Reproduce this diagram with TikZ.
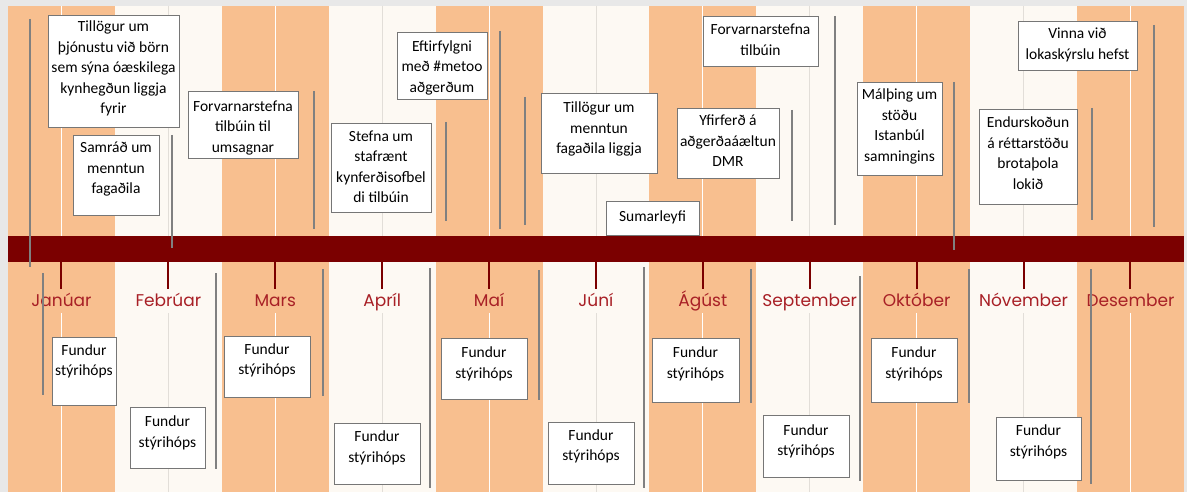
\documentclass[tikz,border=0pt]{standalone}
\usepackage{fontspec}
\setmainfont{Carlito}
\newfontfamily\monthfont{Poppins}
\definecolor{bandO}{RGB}{248,191,143}
\definecolor{bandC}{RGB}{253,249,243}
\definecolor{barR}{RGB}{123,0,0}
\definecolor{monR}{RGB}{168,32,38}
\definecolor{edgeG}{RGB}{232,232,232}
\definecolor{lineG}{RGB}{128,128,128}
\definecolor{boxG}{RGB}{118,118,118}
\definecolor{midC}{RGB}{226,222,216}
\tikzset{
  tbox/.style={draw=boxG, line width=0.9pt, fill=white, inner sep=0pt, outer sep=0pt, anchor=north west},
  vline/.style={draw=lineG, line width=1.3pt},
  monthtick/.style={draw=barR, line width=2pt},
  month/.style={font={\monthfont\fontsize{17}{20}\selectfont}, text=monR, anchor=base, inner sep=0pt},
  midO/.style={draw=white, line width=0.9pt},
  midCl/.style={draw=midC, line width=0.9pt},
}
\newcommand\Lc[1]{\makebox[0pt]{#1}}
\newcommand\tbx[7]{\node[tbox] (#1) at (#2,#3) {\parbox[t][#5pt][t]{#4pt}{\fontsize{15.5}{20.5}\selectfont\centering\rule{0pt}{#6pt}#7}};}
\begin{document}
\begin{tikzpicture}[x=1pt,y=-1pt]
\useasboundingbox (0,0) rectangle (1187,492);
\fill[edgeG] (0,0) rectangle (1187,492);
% columns
\foreach \i in {0,2,...,10} {
  \pgfmathsetmacro\xa{8+106.9*\i}
  \pgfmathsetmacro\xb{8+106.9*(\i+1)}
  \pgfmathsetmacro\xm{8+106.9*(\i+0.5)}
  \fill[bandO] (\xa,6) rectangle (\xb,492);
  \draw[midO] (\xm,6) -- (\xm,236);
  \draw[midO] (\xm,313) -- (\xm,492);
}
\foreach \i in {1,3,...,9} {
  \pgfmathsetmacro\xa{8+106.9*\i}
  \pgfmathsetmacro\xb{8+106.9*(\i+1)}
  \pgfmathsetmacro\xm{8+106.9*(\i+0.5)}
  \fill[bandC] (\xa,6) rectangle (\xb,492);
  \draw[midCl] (\xm,6) -- (\xm,236);
  \draw[midCl] (\xm,313) -- (\xm,492);
}
% bar
\node[fill=barR, inner sep=0pt, outer sep=0pt, minimum width=1176pt, minimum height=26pt, anchor=north west] (bar) at (8,236) {};
% months
\foreach \n/\name [count=\k from 0] in {m1/Janúar,m2/Febrúar,m3/Mars,m4/Apríl,m5/Maí,m6/Júní,m7/Ágúst,m8/September,m9/Október,m10/Nóvember,m11/Desember} {
  \pgfmathsetmacro\xm{8+106.9*(\k+0.5)}
  \node[month] (\n) at (\xm,306) {\name};
  \draw[monthtick] (\xm,262) -- (\xm,289);
}
% gray lines top
\foreach \x/\ya/\yb in {30/19/267,172/135/248,314/91/229,446/122/221,500/31/229,525/97/225,792/110/221,835/16/225,954/82/250,1092/108/220,1154/25/227} {
  \draw[vline] (\x,\ya) -- (\x,\yb);
}
% gray lines bottom
\foreach \x/\ya/\yb in {43/273/395,216/273/469,323/269/396,430/268/488,539/270/400,644/267/488,751/269/403,860/276/481,969/269/403,1091/269/484} {
  \draw[vline] (\x,\ya) -- (\x,\yb);
}
% top boxes
\tbx{t1}{48}{15}{131}{112}{17}{\Lc{Tillögur um}\\\Lc{þjónustu við börn}\\\Lc{sem sýna óæskilega}\\\Lc{kynhegðun liggja}\\\Lc{fyrir}}
\tbx{t2}{73}{135}{86}{80}{18}{\Lc{Samráð um}\\\Lc{menntun}\\\Lc{fagaðila}}
\tbx{t3}{188}{91}{110}{67}{20.5}{\Lc{Forvarnarstefna}\\\Lc{tilbúin til}\\\Lc{umsagnar}}
\tbx{t4}{397}{32}{90}{67}{19.5}{\Lc{Eftirfylgni}\\\Lc{með \#metoo}\\\Lc{aðgerðum}}
\tbx{t5}{331}{123}{100}{89}{18.5}{\Lc{Stefna um}\\\Lc{stafrænt}\\\Lc{kynferðisofbel}\\\Lc{di tilbúin}}
\tbx{t6}{541}{93}{116}{80}{20}{\Lc{Tillögur um}\\\Lc{menntun}\\\Lc{fagaðila liggja}}
\tbx{t7}{606}{201}{93}{34}{21}{\Lc{Sumarleyfi}}
\tbx{t8}{703}{16}{115}{50}{19}{\Lc{Forvarnarstefna}\\\Lc{tilbúin}}
\tbx{t9}{677}{108}{102}{70}{18}{\Lc{Yfirferð á}\\\Lc{aðgerðaáæltun}\\\Lc{DMR}}
\tbx{t10}{857}{82}{85}{93}{18}{\Lc{Málþing um}\\\Lc{stöðu}\\\Lc{Istanbúl}\\\Lc{samningins}}
\tbx{t11}{1018}{21}{119}{49}{18}{\Lc{Vinna við}\\\Lc{lokaskýrslu hefst}}
\tbx{t12}{979}{109}{98}{95}{19}{\Lc{Endurskoðun}\\\Lc{á réttarstöðu}\\\Lc{brotaþola}\\\Lc{lokið}}
% meeting boxes
\tbx{f1}{52}{337}{64}{68}{18}{\Lc{Fundur}\\\Lc{stýrihóps}}
\tbx{f2}{130}{407}{75}{61}{19.5}{\Lc{Fundur}\\\Lc{stýrihóps}}
\tbx{f3}{224}{336}{86}{61}{18}{\Lc{Fundur}\\\Lc{stýrihóps}}
\tbx{f4}{334}{423}{86}{61}{18.5}{\Lc{Fundur}\\\Lc{stýrihóps}}
\tbx{f5}{441}{338}{86}{61}{19.5}{\Lc{Fundur}\\\Lc{stýrihóps}}
\tbx{f6}{548}{422}{86}{62}{18}{\Lc{Fundur}\\\Lc{stýrihóps}}
\tbx{f7}{652}{338}{87}{64}{19.5}{\Lc{Fundur}\\\Lc{stýrihóps}}
\tbx{f8}{763}{415}{86}{62}{20}{\Lc{Fundur}\\\Lc{stýrihóps}}
\tbx{f9}{871}{338}{86}{64}{19.5}{\Lc{Fundur}\\\Lc{stýrihóps}}
\tbx{f10}{996}{417}{85}{63}{18.5}{\Lc{Fundur}\\\Lc{stýrihóps}}
\end{tikzpicture}
\end{document}
